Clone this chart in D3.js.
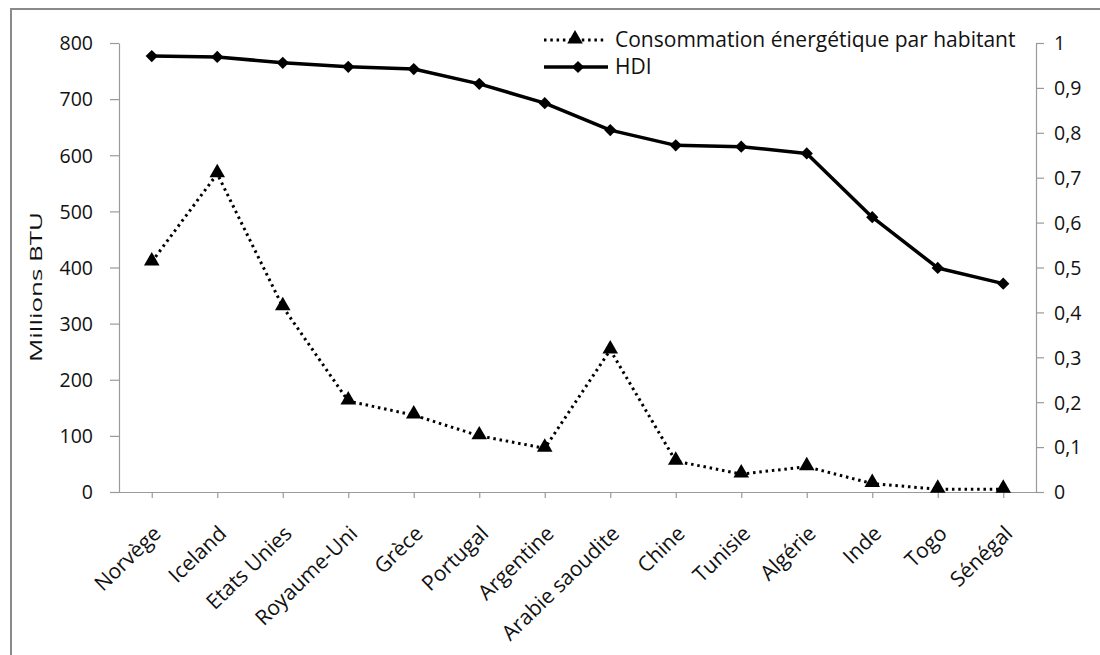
<!DOCTYPE html>
<html>
<head>
<meta charset="utf-8">
<script src="https://cdn.jsdelivr.net/npm/d3@7"></script>
<style>
  html, body { margin: 0; padding: 0; background: #fff; }
  svg text { font-family: "Open Sans", "Liberation Sans", sans-serif; fill: #111; }
</style>
</head>
<body>
<svg id="chart" width="1100" height="655"></svg>
<script>
// Countries, ordered by decreasing HDI
const countries = ["Norvège", "Iceland", "Etats Unies", "Royaume-Uni", "Grèce", "Portugal",
  "Argentine", "Arabie saoudite", "Chine", "Tunisie", "Algérie", "Inde", "Togo", "Sénégal"];

// Energy consumption per inhabitant (millions BTU)
const consumption = [410, 567, 330, 162, 137, 100, 78, 253, 55, 32, 45, 15, 5, 5];

// Human Development Index
const hdi = [0.971, 0.969, 0.956, 0.947, 0.942, 0.909, 0.866, 0.806, 0.772, 0.769, 0.754, 0.612, 0.499, 0.464];

// Axis ticks
const leftTicks = [0, 100, 200, 300, 400, 500, 600, 700, 800];
const rightTicks = [0, 0.1, 0.2, 0.3, 0.4, 0.5, 0.6, 0.7, 0.8, 0.9, 1];

const seriesNames = ["Consommation énergétique par habitant", "HDI"];

const svg = d3.select("#chart");
const plot = { left: 119, right: 1036, top: 43, bottom: 492 };
const axisColor = "#9a9a9a";
const fontSize = 19.5;

// Outer frame
svg.append("rect")
  .attr("x", 11).attr("y", 9).attr("width", 1120).attr("height", 680)
  .attr("fill", "none").attr("stroke", "#8a8a8a").attr("stroke-width", 2);

const x = d3.scalePoint().domain(countries).range([plot.left, plot.right]).padding(0.5);
const yLeft = d3.scaleLinear().domain([0, 800]).range([plot.bottom, plot.top]);
const yRight = d3.scaleLinear().domain([0, 1]).range([plot.bottom, plot.top]);

function styleAxis(g, size) {
  g.selectAll("path, line").attr("stroke", axisColor).attr("stroke-width", 1.2);
  g.selectAll("text").attr("font-size", size).attr("fill", "#111");
}

// Left axis
const gl = svg.append("g").attr("transform", `translate(${plot.left},0)`)
  .call(d3.axisLeft(yLeft).tickValues(leftTicks).tickSize(9).tickSizeOuter(0).tickPadding(17)
    .tickFormat(d3.format("d")));
styleAxis(gl, fontSize);
gl.selectAll("text").attr("dy", "0.35em");

// Right axis
const fmtComma = d => (d === 0 || d === 1) ? String(d) : d3.format(".1f")(d).replace(".", ",");
const gr = svg.append("g").attr("transform", `translate(${plot.right},0)`)
  .call(d3.axisRight(yRight).tickValues(rightTicks).tickSize(8).tickSizeOuter(0).tickPadding(10)
    .tickFormat(fmtComma));
styleAxis(gr, fontSize);
gr.selectAll("text").attr("dy", "0.35em");

// Bottom axis with slanted country names
const gb = svg.append("g").attr("transform", `translate(0,${plot.bottom})`)
  .call(d3.axisBottom(x).tickSize(6).tickSizeOuter(0));
gb.select(".domain").attr("d", `M${plot.left - 9},0.5H${plot.right}`);
styleAxis(gb, 21);
gb.selectAll("text")
  .attr("text-anchor", "end")
  .attr("dy", "0")
  .attr("y", 0)
  .attr("transform", "translate(10,43) rotate(-44)");

// Left axis title
svg.append("text")
  .attr("transform", `translate(42,287) rotate(-90)`)
  .attr("text-anchor", "middle")
  .attr("font-size", 17)
  .attr("textLength", 150)
  .attr("lengthAdjust", "spacingAndGlyphs")
  .text("Millions BTU");

// Energy consumption series (dotted line with triangles)
const lineL = d3.line().x((d, i) => x(countries[i])).y(d => yLeft(d));
svg.append("path").datum(consumption)
  .attr("d", lineL).attr("fill", "none").attr("stroke", "#000")
  .attr("stroke-width", 3).attr("stroke-dasharray", "2.5,3.8");

const tri = d3.symbol().type(d3.symbolTriangle).size(105);
svg.append("g").selectAll("path").data(consumption).join("path")
  .attr("d", tri)
  .attr("transform", (d, i) => `translate(${x(countries[i])},${yLeft(d) - 1})`)
  .attr("fill", "#000");

// HDI series (solid line with diamonds)
const lineR = d3.line().x((d, i) => x(countries[i])).y(d => yRight(d));
svg.append("path").datum(hdi)
  .attr("d", lineR).attr("fill", "none").attr("stroke", "#000")
  .attr("stroke-width", 3.5).attr("stroke-linejoin", "round");

const diamond = d3.symbol().type(d3.symbolSquare).size(75);
svg.append("g").selectAll("path").data(hdi).join("path")
  .attr("d", diamond)
  .attr("transform", (d, i) => `translate(${x(countries[i])},${yRight(d)}) rotate(45)`)
  .attr("fill", "#000");

// Legend
const legend = svg.append("g");
const lx0 = 544, lx1 = 606, ltext = 615;
const rows = [40, 67];

legend.append("line")
  .attr("x1", lx0).attr("x2", lx1).attr("y1", rows[0]).attr("y2", rows[0])
  .attr("stroke", "#000").attr("stroke-width", 3).attr("stroke-dasharray", "2.5,3.8");
legend.append("path").attr("d", tri)
  .attr("transform", `translate(${(lx0 + lx1) / 2},${rows[0] - 1})`).attr("fill", "#000");

legend.append("line")
  .attr("x1", lx0).attr("x2", lx1 + 2).attr("y1", rows[1]).attr("y2", rows[1])
  .attr("stroke", "#000").attr("stroke-width", 3.5);
legend.append("path").attr("d", diamond)
  .attr("transform", `translate(${(lx0 + lx1) / 2 + 3},${rows[1]}) rotate(45)`).attr("fill", "#000");

legend.selectAll("text.lg").data(seriesNames).join("text")
  .attr("class", "lg")
  .attr("x", ltext).attr("y", (d, i) => rows[i])
  .attr("dy", "0.35em")
  .attr("font-size", 21)
  .text(d => d);
</script>
</body>
</html>
